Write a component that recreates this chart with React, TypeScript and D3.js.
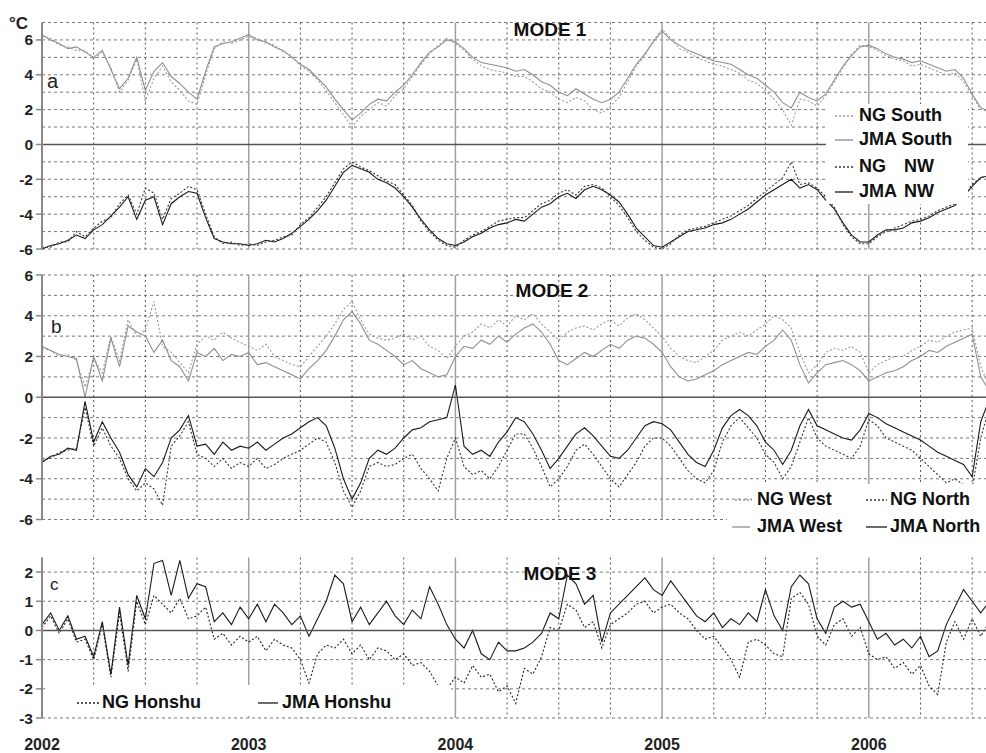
import { useEffect, useRef } from 'react';
import * as d3 from 'd3';

// half-monthly samples, starting Jan 2002
const sampleYears = d3.range(111).map((i) => 2002 + i / 24);
const yearLabels = [2002, 2003, 2004, 2005, 2006];

// MODE 1
const southJMA = [
  6.3, 6.0, 5.8, 5.5, 5.6, 5.3, 5.0, 5.4, 4.3, 3.2, 3.8, 5.0,
  3.1, 4.2, 4.7, 3.9, 3.5, 3.0, 2.6, 4.2, 5.6, 5.8, 5.9, 6.1,
  6.3, 6.0, 5.9, 5.6, 5.4, 5.0, 4.6, 4.3, 3.8, 3.3, 2.6, 2.0,
  1.4, 1.8, 2.3, 2.6, 2.5, 3.0, 3.4, 4.0, 4.7, 5.3, 5.6, 6.0,
  5.9, 5.5, 5.0, 4.7, 4.6, 4.5, 4.4, 4.2, 4.3, 4.0, 3.6, 3.4,
  3.0, 2.8, 3.2, 2.9, 2.6, 2.4, 2.6, 3.0, 3.8, 4.6, 5.2, 5.9,
  6.5, 6.0, 5.7, 5.4, 5.2, 5.0, 4.8, 4.7, 4.6, 4.3, 4.0, 3.8,
  3.4, 3.0, 2.4, 2.1, 3.0, 2.7, 2.5, 2.9, 3.7, 4.5, 5.1, 5.6,
  5.7, 5.5, 5.2, 5.0, 4.9, 4.7, 4.8, 4.6, 4.4, 4.2, 4.3, 3.8,
  2.9, 2.1, 1.9,
];
const southNG = [
  6.2, 6.1, 5.7, 5.6, 5.4, 5.4, 4.9, 5.3, 4.4, 3.0, 3.7, 4.9,
  2.5, 3.8, 4.5, 3.6, 3.1, 2.5, 2.3, 4.0, 5.5, 5.9, 5.8, 6.0,
  6.2, 6.1, 5.8, 5.7, 5.3, 5.1, 4.5, 4.2, 3.7, 3.1, 2.4, 1.7,
  1.0, 1.6, 2.0, 2.4, 2.2, 2.8, 3.2, 3.9, 4.6, 5.2, 5.7, 6.1,
  5.8, 5.4, 4.9, 4.5, 4.3, 4.2, 4.1, 3.9, 3.9, 3.6, 3.2, 3.0,
  2.6, 2.4, 2.7, 2.5, 2.0, 1.8, 2.2, 2.7, 3.6, 4.5, 5.1, 6.0,
  6.6, 6.1, 5.5, 5.3, 5.0, 4.8, 4.6, 4.5, 4.3, 4.1, 3.7, 3.5,
  3.1, 2.6, 2.0, 1.1, 2.6, 2.5, 2.2, 2.8, 3.6, 4.4, 5.2, 5.7,
  5.6, 5.4, 5.1, 4.9, 4.8, 4.5, 4.6, 4.4, 4.2, 4.0, 4.1, 3.6,
  2.8, 2.0, 1.9,
];
const nwJMA = [
  -6.0, -5.8, -5.7, -5.5, -5.2, -5.4, -4.9, -4.6, -4.1, -3.6, -3.0, -4.3,
  -3.2, -3.0, -4.6, -3.4, -3.0, -2.7, -2.8, -4.2, -5.4, -5.6, -5.7, -5.7,
  -5.8, -5.7, -5.5, -5.6, -5.4, -5.1, -4.7, -4.3, -3.8, -3.2, -2.4, -1.6,
  -1.2, -1.4, -1.6, -2.0, -2.2, -2.5, -3.0, -3.6, -4.3, -4.9, -5.4, -5.7,
  -5.8, -5.6, -5.3, -5.1, -4.8, -4.6, -4.5, -4.3, -4.4, -4.0, -3.6, -3.4,
  -3.0, -2.8, -3.1, -2.6, -2.4, -2.6, -2.9, -3.3, -4.0, -4.8, -5.3, -5.8,
  -5.9, -5.6, -5.3, -5.0, -4.9, -4.8, -4.6, -4.5, -4.3, -4.0, -3.7, -3.3,
  -2.9, -2.6, -2.3, -2.0, -2.5, -2.3, -2.6, -3.2, -3.7, -4.5, -5.2, -5.6,
  -5.6, -5.2, -4.9, -4.9, -4.8, -4.5, -4.4, -4.2, -3.9, -3.7, -3.5, -3.0,
  -2.4, -1.9, -1.8,
];
const nwNG = [
  -5.9, -5.9, -5.6, -5.6, -5.0, -5.3, -4.8, -4.4, -4.2, -3.4, -2.9, -4.0,
  -2.5, -2.8, -4.3, -3.1, -2.8, -2.4, -2.6, -4.0, -5.3, -5.7, -5.6, -5.8,
  -5.7, -5.8, -5.6, -5.5, -5.3, -5.2, -4.6, -4.2, -3.6, -3.0, -2.2, -1.4,
  -1.0, -1.3, -1.5, -1.8, -2.1, -2.3, -2.9, -3.5, -4.4, -5.0, -5.5, -5.8,
  -5.9, -5.5, -5.2, -5.0, -4.7, -4.4, -4.3, -4.2, -4.2, -3.8, -3.4, -3.2,
  -2.8, -2.6, -2.9, -2.4, -2.3, -2.5, -3.0, -3.5, -4.2, -5.0, -5.5, -5.9,
  -6.0, -5.7, -5.2, -4.9, -4.8, -4.7, -4.5, -4.3, -4.1, -3.8, -3.5, -3.1,
  -2.7, -2.3, -1.9, -1.0, -2.3, -2.2, -2.5, -3.0, -3.6, -4.6, -5.3, -5.7,
  -5.7, -5.3, -5.0, -4.8, -4.6, -4.4, -4.3, -4.1, -3.8, -3.6, -3.4, -2.9,
  -2.3, -1.9, -1.8,
];

// MODE 2
const westJMA = [
  2.5, 2.3, 2.1, 2.0, 1.9, 0.0, 2.0, 0.8, 2.9, 1.5, 3.5, 3.2,
  3.0, 2.2, 2.8, 1.8, 1.5, 0.8, 2.2, 2.0, 2.4, 1.8, 2.1, 2.0,
  2.2, 1.6, 1.7, 1.5, 1.3, 1.1, 0.9, 1.4, 1.8, 2.3, 3.0, 3.8,
  4.2, 3.6, 2.8, 2.6, 2.3, 2.0, 1.6, 1.8, 1.4, 1.2, 1.0, 1.1,
  2.0, 2.5, 2.4, 2.8, 2.6, 3.0, 2.7, 3.1, 3.4, 3.6, 3.2, 2.6,
  1.8, 1.6, 1.9, 2.2, 2.0, 2.3, 2.6, 2.4, 2.8, 3.0, 2.9, 2.6,
  2.2, 1.5, 1.0, 0.8, 0.9, 1.1, 1.3, 1.6, 1.8, 2.0, 2.2, 2.1,
  2.5, 2.8, 3.3, 2.8, 1.6, 0.7, 1.2, 1.6, 1.7, 1.8, 1.6, 1.3,
  0.8, 1.0, 1.2, 1.3, 1.5, 1.8, 2.0, 2.3, 2.2, 2.5, 2.7, 2.9,
  3.1, 1.0, 0.3,
];
const westNG = [
  2.4, 2.3, 2.0, 2.1, 1.8, 0.5, 1.9, 1.2, 3.0, 1.8, 3.8, 3.0,
  3.3, 4.7, 2.5, 2.2, 1.7, 1.2, 2.6, 3.0, 2.8, 3.2, 2.9, 2.7,
  2.5, 2.3, 2.6, 2.0, 1.8, 1.6, 1.5, 2.0, 2.5, 3.0, 3.6, 4.3,
  4.7, 3.8, 3.1, 2.9, 2.8, 2.9, 3.1, 2.8, 3.0, 2.5, 2.3, 1.9,
  2.5, 3.0, 3.2, 3.6, 3.4, 3.8, 3.5, 4.0, 3.8, 4.1, 3.6, 3.2,
  2.8, 3.2, 3.4, 3.5, 3.3, 3.6, 3.8, 3.5, 3.9, 4.1, 3.8, 3.4,
  3.0, 2.4, 2.0, 1.8, 1.7, 2.0, 2.3, 2.8, 3.0, 3.2, 3.0, 3.3,
  3.6, 4.0, 3.8, 3.4, 2.2, 1.2, 1.6, 2.2, 2.4, 2.3, 2.5, 2.2,
  1.2, 1.6, 1.8, 2.0, 2.0, 2.3, 2.5, 2.8, 2.7, 3.0, 3.2, 3.3,
  3.4, 1.5, 0.5,
];
const northJMA = [
  -3.2, -2.9, -2.8, -2.5, -2.6, -0.2, -2.2, -1.2, -2.0, -2.7, -3.8, -4.4,
  -3.5, -3.9, -3.2, -2.0, -1.6, -0.9, -2.4, -2.3, -2.8, -2.2, -2.6, -2.4,
  -2.5, -2.2, -2.6, -2.3, -2.0, -1.8, -1.5, -1.2, -1.0, -1.4, -2.5, -4.0,
  -5.0, -4.2, -3.0, -2.6, -2.8, -2.5, -2.0, -1.6, -1.5, -1.2, -1.1, -1.0,
  0.6, -2.4, -2.8, -2.6, -2.9, -2.2, -1.7, -1.0, -1.2, -1.8, -2.6, -3.5,
  -3.0, -2.4, -1.8, -1.5, -1.9, -2.4, -2.9, -3.0, -2.6, -2.0, -1.4, -1.2,
  -1.3, -1.6, -2.2, -2.8, -3.2, -3.4, -2.6, -1.5, -0.9, -0.6, -0.9, -1.4,
  -2.2, -2.6, -3.3, -2.6, -1.4, -0.6, -1.4, -1.6, -1.8, -2.0, -2.1, -1.6,
  -0.8, -1.0, -1.3, -1.5, -1.7, -1.9, -2.1, -2.4, -2.7, -2.9, -3.1, -3.3,
  -3.9, -1.2, -0.1,
];
const northNG = [
  -3.1, -3.0, -2.7, -2.6, -2.5, -0.5, -2.4, -1.5, -2.4, -3.0, -4.0, -4.6,
  -4.2, -4.5, -5.3, -2.4, -1.9, -1.2, -2.8, -3.0, -3.4, -3.0, -3.5, -3.2,
  -3.4, -3.0, -3.5, -3.3, -3.0, -2.8, -2.6, -2.3, -2.0, -2.2, -3.2, -4.6,
  -5.4, -4.6, -3.4, -3.2, -3.4, -3.3, -3.0, -2.8, -3.5, -4.0, -4.6, -3.0,
  -2.0, -3.4, -3.8, -3.6, -4.0, -3.4, -2.6, -1.8, -1.8, -2.5, -3.4, -4.4,
  -4.0, -3.4, -2.6, -2.3, -2.8, -3.4, -4.0, -4.4, -3.8, -3.2, -2.4, -2.0,
  -2.0, -2.4, -3.0, -3.6, -4.0, -4.2, -3.6, -2.2, -1.4, -1.0, -1.5, -2.0,
  -2.8, -3.2, -4.0, -3.4, -2.2, -1.0, -2.0, -2.4, -2.6, -2.8, -3.0, -2.4,
  -1.1, -1.4, -2.0, -2.2, -2.4, -2.6, -3.0, -3.4, -3.8, -4.2, -4.0, -4.3,
  -4.5, -2.0, -0.5,
];

// MODE 3
const honshuJMA = [
  0.2, 0.6, 0.0, 0.5, -0.3, -0.2, -0.9, 0.3, -1.5, 0.8, -1.2, 1.2,
  0.4, 2.3, 2.4, 1.2, 2.4, 1.1, 1.6, 1.5, 0.3, 0.6, 0.2, 0.8,
  0.4, 0.9, 0.3, 0.9, 0.6, 0.2, 0.5, -0.2, 0.4, 1.0, 1.9, 1.6,
  0.3, 0.8, 0.2, 0.6, 1.0, 0.5, 0.2, 0.7, 0.4, 1.5, 0.9, 0.2,
  -0.3, -0.6, 0.0, -0.8, -1.0, -0.4, -0.7, -0.7, -0.6, -0.4, -0.1, 0.6,
  0.4, 1.9, 1.6, 0.9, 1.2, -0.4, 0.6, 0.9, 1.2, 1.5, 1.8, 1.4,
  1.2, 1.7, 1.3, 0.9, 0.5, 0.3, 0.6, 0.1, 0.4, 0.2, 0.6, 0.3,
  1.4, 0.5, 0.0, 1.5, 1.9, 1.6, 0.4, -0.1, 0.8, 1.0, 0.8, 0.9,
  0.3, -0.3, -0.1, -0.5, -0.3, -0.6, -0.2, -0.9, -0.7, 0.2, 0.8, 1.4,
  1.0, 0.6, 1.0,
];
const honshuNG = [
  0.1, 0.5, -0.1, 0.4, -0.4, -0.3, -1.0, 0.2, -1.6, 0.6, -1.4, 1.0,
  0.2, 1.2, 0.9, 0.6, 1.1, 0.4, 0.5, 0.8, -0.3, -0.1, -0.5, -0.2,
  -0.4, -0.2, -0.7, -0.3, -0.5, -0.6, -1.0, -1.8, -0.8, -0.5, -0.6, -0.3,
  -0.8, -0.5, -1.0, -0.6, -0.7, -1.0, -0.8, -1.2, -1.1, -1.4, -1.9, -2.0,
  -1.6, -1.8, -1.2, -1.6, -1.5, -2.1, -1.9, -2.5, -1.3, -1.5, -0.9, 0.1,
  0.0, 0.9, 0.7, 0.1, 0.3, -0.6, 0.2, 0.4, 0.6, 0.9, 1.0, 0.6,
  0.8, 0.9, 0.6, 0.4, 0.0, -0.3, -0.2, -0.6, -1.0, -1.6, -0.4, -0.3,
  -0.5, -0.8, -0.9, 1.1, 1.3, 0.9, -0.2, -0.5, 0.2, 0.4, -0.2, 0.1,
  -0.8, -1.0, -0.9, -1.3, -1.1, -1.5, -1.2, -1.9, -2.2, -0.4, 0.3, -0.3,
  0.4, -0.2, 0.3,
];

const FONT = "'Liberation Sans', Arial, sans-serif";
const GRAY = '#8c8c8c';
const DARK = '#1a1a1a';

export default function App() {
  const ref = useRef<SVGSVGElement>(null);

  useEffect(() => {
    if (!ref.current) return;
    document.body.style.margin = '0';
    const svg = d3.select(ref.current);
    svg.selectAll('*').remove();

    const W = 986;
    const x = d3.scaleLinear().domain([2002, 2006.567]).range([42, W]);

    const panels = [
      {
        letter: 'a', title: 'MODE 1', titleX: 550, titleY: 36,
        y: d3.scaleLinear().domain([-6, 7]).range([249, 22.5]),
        ticks: [-6, -4, -2, 0, 2, 4, 6], grid: d3.range(-6, 8),
        letterPos: [47, 88, 20],
        series: [
          { values: southJMA, color: '#8f8f8f', dash: null },
          { values: southNG, color: '#9a9a9a', dash: '2,2' },
          { values: nwJMA, color: DARK, dash: null },
          { values: nwNG, color: '#333', dash: '2,2' },
        ],
      },
      {
        letter: 'b', title: 'MODE 2', titleX: 552, titleY: 297,
        y: d3.scaleLinear().domain([-6, 6]).range([519.5, 275]),
        ticks: [-6, -4, -2, 0, 2, 4, 6], grid: d3.range(-6, 7),
        letterPos: [51, 333, 19],
        series: [
          { values: westNG, color: '#9a9a9a', dash: '2,2' },
          { values: westJMA, color: '#8f8f8f', dash: null },
          { values: northNG, color: '#333', dash: '2,2' },
          { values: northJMA, color: DARK, dash: null },
        ],
      },
      {
        letter: 'c', title: 'MODE 3', titleX: 560, titleY: 580,
        y: d3.scaleLinear().domain([-3, 2.5]).range([718, 557.5]),
        ticks: [-3, -2, -1, 0, 1, 2], grid: d3.range(-3, 3),
        letterPos: [50, 590, 17],
        series: [
          { values: honshuNG, color: '#222', dash: '2,2' },
          { values: honshuJMA, color: DARK, dash: null },
        ],
      },
    ];

    const quarters = d3.range(2002.25, 2006.6, 0.25);

    panels.forEach((p) => {
      const [yBot, yTop] = p.y.range();
      const g = svg.append('g');

      // horizontal dotted grid
      g.selectAll('line.h')
        .data(p.grid.filter((v) => v !== 0))
        .join('line')
        .attr('x1', 42).attr('x2', W)
        .attr('y1', (d) => p.y(d)).attr('y2', (d) => p.y(d))
        .attr('stroke', '#777').attr('stroke-width', 1)
        .attr('stroke-dasharray', '3,3');

      // vertical grid: quarters dotted, years solid
      g.selectAll('line.v')
        .data(quarters)
        .join('line')
        .attr('x1', (d) => x(d)).attr('x2', (d) => x(d))
        .attr('y1', yTop).attr('y2', yBot)
        .attr('stroke', (d) => (Number.isInteger(d) ? '#a0a0a0' : '#555'))
        .attr('stroke-width', (d) => (Number.isInteger(d) ? 1.5 : 1))
        .attr('stroke-dasharray', (d) => (Number.isInteger(d) ? null : '2,3'));

      // series
      p.series.forEach((s) => {
        const line = d3.line<number>()
          .x((_, i) => x(sampleYears[i]))
          .y((d) => p.y(d));
        g.append('path')
          .datum(s.values)
          .attr('d', line)
          .attr('fill', 'none')
          .attr('stroke', s.color)
          .attr('stroke-width', 1.1)
          .attr('stroke-dasharray', s.dash);
      });

      // zero line
      g.append('line')
        .attr('x1', 42).attr('x2', W)
        .attr('y1', p.y(0)).attr('y2', p.y(0))
        .attr('stroke', '#555').attr('stroke-width', 1.5);

      // y axis
      g.append('line')
        .attr('x1', 42).attr('x2', 42)
        .attr('y1', yTop).attr('y2', yBot)
        .attr('stroke', '#888').attr('stroke-width', 2);

      g.selectAll('line.tk')
        .data(p.ticks)
        .join('line')
        .attr('x1', 36).attr('x2', 42)
        .attr('y1', (d) => p.y(d)).attr('y2', (d) => p.y(d))
        .attr('stroke', '#888').attr('stroke-width', 1.5);

      g.selectAll('text.tl')
        .data(p.ticks)
        .join('text')
        .attr('x', 33)
        .attr('y', (d) => p.y(d) + 5.5)
        .attr('text-anchor', 'end')
        .attr('font-family', FONT)
        .attr('font-weight', 'bold')
        .attr('font-size', 15.5)
        .attr('fill', '#222')
        .text((d) => d);

      g.append('text')
        .attr('x', p.letterPos[0]).attr('y', p.letterPos[1])
        .attr('font-family', FONT)
        .attr('font-size', p.letterPos[2])
        .attr('fill', '#222')
        .text(p.letter);

      g.append('text')
        .attr('x', p.titleX).attr('y', p.titleY)
        .attr('text-anchor', 'middle')
        .attr('font-family', FONT)
        .attr('font-weight', 'bold')
        .attr('font-size', 19)
        .attr('fill', '#111')
        .text(p.title);
    });

    // degree label
    svg.append('text')
      .attr('x', 9).attr('y', 29)
      .attr('font-family', FONT)
      .attr('font-weight', 'bold')
      .attr('font-size', 17)
      .attr('fill', '#222')
      .text('°C');

    // year labels
    svg.selectAll('text.yr')
      .data(yearLabels)
      .join('text')
      .attr('x', (d) => x(d))
      .attr('y', 750)
      .attr('text-anchor', 'middle')
      .attr('font-family', FONT)
      .attr('font-weight', 'bold')
      .attr('font-size', 16)
      .attr('fill', '#222')
      .text((d) => d);

    // legends
    const legendText = (
      tx: number, ty: number, label: string, color: string,
      dash: string | null, sx0: number, sx1: number, tail?: string
    ) => {
      svg.append('line')
        .attr('x1', sx0).attr('x2', sx1)
        .attr('y1', ty - 5).attr('y2', ty - 5)
        .attr('stroke', color).attr('stroke-width', 1.3)
        .attr('stroke-dasharray', dash);
      const t = svg.append('text')
        .attr('x', tx).attr('y', ty)
        .attr('font-family', FONT)
        .attr('font-weight', 'bold')
        .attr('font-size', 18)
        .attr('fill', '#111')
        .text(label);
      if (tail) t.append('tspan').attr('x', 904).text(tail);
    };

    // panel a
    svg.append('rect').attr('x', 826).attr('y', 104).attr('width', 142).attr('height', 100).attr('fill', '#fff');
    legendText(859, 121, 'NG South', '#9a9a9a', '2,2', 835, 853);
    legendText(859, 145, 'JMA South', '#8f8f8f', null, 835, 853);
    legendText(859, 172, 'NG', '#333', '2,2', 835, 853, 'NW');
    legendText(859, 197, 'JMA', DARK, null, 835, 853, 'NW');

    // panel b
    svg.append('rect').attr('x', 752).attr('y', 484).attr('width', 234).attr('height', 56).attr('fill', '#fff');
    svg.append('rect').attr('x', 727).attr('y', 508).attr('width', 26).attr('height', 32).attr('fill', '#fff');
    legendText(757, 505, 'NG West', '#9a9a9a', '2,2', 735, 752);
    legendText(757, 532, 'JMA West', '#8f8f8f', null, 732, 750);
    legendText(890, 505, 'NG North', '#333', '2,2', 866, 887);
    legendText(890, 532, 'JMA North', DARK, null, 866, 887);

    // panel c
    svg.append('rect').attr('x', 48).attr('y', 685).attr('width', 403).attr('height', 31).attr('fill', '#fff');
    legendText(102, 708, 'NG Honshu', '#222', '2,2', 77, 99);
    legendText(282, 708, 'JMA Honshu', DARK, null, 258, 278);
  }, []);

  return <svg ref={ref} width={986} height={753} style={{ display: 'block', background: '#fff' }} />;
}
